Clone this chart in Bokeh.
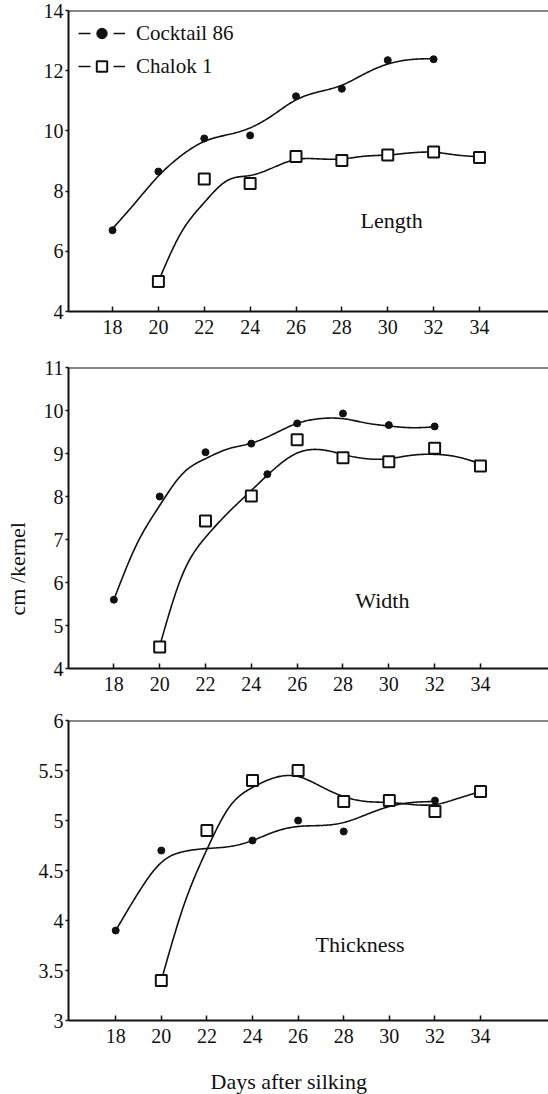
import numpy as np
from bokeh.plotting import figure
from bokeh.layouts import column
from bokeh.models import (Range1d, FixedTicker, Span, Label, Legend, LegendItem,
                          CustomJSTickFormatter, LinearAxis, Title)
from bokeh.embed import file_html
from bokeh.resources import INLINE

# ---------------- data ----------------
days_ck = [18, 20, 22, 24, 26, 28, 30, 32]
days_ch = [20, 22, 24, 26, 28, 30, 32, 34]
x_ticks = [18, 20, 22, 24, 26, 28, 30, 32, 34]

length_ck = [6.7, 8.65, 9.75, 9.85, 11.15, 11.4, 12.35, 12.38]
length_ch = [5.0, 8.4, 8.25, 9.15, 9.02, 9.2, 9.3, 9.12]

width_ck = [5.6, 8.0, 9.03, 9.23, 9.7, 9.93, 9.66, 9.63]
width_ch = [4.5, 7.43, 8.01, 9.32, 8.9, 8.81, 9.12, 8.71]
width_extra_day = [24.7]
width_extra_val = [8.52]

thick_ck_days = [18, 20, 24, 26, 28, 32]
thick_ck = [3.9, 4.7, 4.8, 5.0, 4.89, 5.2]
thick_ch = [3.4, 4.9, 5.4, 5.5, 5.19, 5.2, 5.09, 5.29]

# fitted (hand-drawn) curves, read at each day
fit_ck_days = list(range(18, 33))
fit_ch_days = list(range(20, 35))
length_ck_fit = [6.75, 7.62, 8.5, 9.18, 9.65, 9.87, 10.1, 10.53, 11.03, 11.3, 11.52, 11.9, 12.22, 12.37, 12.4]
length_ch_fit = [5.0, 6.63, 7.62, 8.35, 8.52, 8.78, 9.05, 9.07, 9.07, 9.16, 9.2, 9.27, 9.29, 9.2, 9.14]
width_ck_fit = [5.6, 6.89, 7.79, 8.53, 8.88, 9.11, 9.24, 9.46, 9.70, 9.81, 9.81, 9.71, 9.64, 9.60, 9.62]
width_ch_fit = [4.52, 6.19, 7.05, 7.63, 8.14, 8.64, 9.01, 9.09, 8.98, 8.88, 8.88, 8.96, 8.98, 8.92, 8.76]
thick_ck_fit = [3.9, 4.28, 4.58, 4.69, 4.72, 4.74, 4.80, 4.89, 4.94, 4.95, 4.98, 5.06, 5.14, 5.18, 5.19]
thick_ch_fit = [3.40, 4.16, 4.71, 5.14, 5.33, 5.43, 5.44, 5.34, 5.24, 5.19, 5.18, 5.16, 5.16, 5.22, 5.29]

length_ticks = [4, 6, 8, 10, 12, 14]
width_ticks = [4, 5, 6, 7, 8, 9, 10, 11]
thick_ticks = [3, 3.5, 4, 4.5, 5, 5.5, 6]

INK = "#111111"
FONT = "Liberation Serif"


def smooth(xs, ys, n=20):
    """natural cubic spline through the read curve values (for drawing)"""
    x = np.asarray(xs, float)
    y = np.asarray(ys, float)
    k = len(x)
    h = np.diff(x)
    A = np.zeros((k, k))
    b = np.zeros(k)
    A[0, 0] = A[-1, -1] = 1
    for i in range(1, k - 1):
        A[i, i - 1] = h[i - 1]
        A[i, i] = 2 * (h[i - 1] + h[i])
        A[i, i + 1] = h[i]
        b[i] = 3 * ((y[i + 1] - y[i]) / h[i] - (y[i] - y[i - 1]) / h[i - 1])
    c = np.linalg.solve(A, b)
    xx = np.linspace(x[0], x[-1], (k - 1) * n + 1)
    idx = np.clip(np.searchsorted(x, xx, side="right") - 1, 0, k - 2)
    dx = xx - x[idx]
    bc = (y[1:] - y[:-1]) / h - h * (2 * c[:-1] + c[1:]) / 3
    d = (c[1:] - c[:-1]) / (3 * h)
    yy = y[idx] + bc[idx] * dx + c[idx] * dx ** 2 + d[idx] * dx ** 3
    return xx, yy


def make_fig(height, top, bottom, xr, yr, yticks):
    p = figure(width=548, height=height, x_range=Range1d(*xr), y_range=Range1d(*yr),
               output_backend="svg", toolbar_location=None,
               min_border_top=top, min_border_bottom=bottom,
               min_border_left=68, min_border_right=0)
    p.outline_line_color = None
    p.xgrid.visible = False
    p.ygrid.visible = False
    p.background_fill_color = "white"
    p.border_fill_color = "white"
    xa = p.xaxis[0]
    xa.ticker = FixedTicker(ticks=x_ticks)
    xa.major_tick_in = 5
    xa.major_tick_out = 0
    xa.minor_tick_line_color = None
    xa.axis_line_width = 2
    xa.axis_line_color = INK
    xa.major_tick_line_color = INK
    xa.major_tick_line_width = 1.5
    xa.major_label_standoff = 8
    xa.major_label_text_font = FONT
    xa.major_label_text_font_style = "normal"
    xa.major_label_text_font_size = "20px"
    xa.major_label_text_color = INK
    ya = p.yaxis[0]
    ya.ticker = FixedTicker(ticks=yticks)
    ya.formatter = CustomJSTickFormatter(code="return tick.toString();")
    ya.major_tick_in = 0
    ya.major_tick_out = 3
    ya.minor_tick_line_color = None
    ya.axis_line_width = 2
    ya.axis_line_color = INK
    ya.major_tick_line_color = INK
    ya.major_tick_line_width = 1.5
    ya.major_label_standoff = 2
    ya.major_label_text_font = FONT
    ya.major_label_text_font_style = "normal"
    ya.major_label_text_font_size = "20px"
    ya.major_label_text_color = INK
    p.add_layout(Span(location=yr[1], dimension="width", line_color=INK, line_width=2))
    return p


def spacer_axis(gap):
    """an empty axis that only reserves `gap` pixels of border"""
    return LinearAxis(ticker=FixedTicker(ticks=[]), axis_line_color=None,
                      major_tick_line_color=None, minor_tick_line_color=None,
                      major_tick_in=0, major_tick_out=0, minor_tick_in=0, minor_tick_out=0,
                      major_label_text_font_size="0px", major_label_standoff=0,
                      axis_label=" ", axis_label_standoff=gap,
                      axis_label_text_font_size="1px")


def side_title(text, offset):
    return Title(text=text, align="left", offset=offset, standoff=0,
                 text_font=FONT, text_font_size="22px", text_font_style="normal",
                 text_color=INK)


def draw(p, dck, vck, fck, dch, vch, fch):
    xs, ys = smooth(fit_ck_days, fck)
    p.line(xs, ys, line_color=INK, line_width=1.6)
    xs, ys = smooth(fit_ch_days, fch)
    p.line(xs, ys, line_color=INK, line_width=1.6)
    r_ck = p.scatter(dck, vck, marker="circle", size=7, fill_color=INK, line_color=INK)
    r_ch = p.scatter(dch, vch, marker="square", size=11, fill_color="white",
                     line_color=INK, line_width=2)
    return r_ck, r_ch


def text(p, x, y, s):
    p.add_layout(Label(x=x, y=y, text=s, text_font=FONT, text_font_size="22px",
                       text_color=INK, text_align="left", text_baseline="middle"))


# ---------------- panel 1: length ----------------
p1 = make_fig(355, 10, 44, (16.08, 37.01), (4, 14), length_ticks)
r_ck, r_ch = draw(p1, days_ck, length_ck, length_ck_fit, days_ch, length_ch, length_ch_fit)
dash1 = p1.line([np.nan], [np.nan], line_color=INK, line_width=1.5, line_dash="12 23")
dash2 = p1.line([np.nan], [np.nan], line_color=INK, line_width=1.5, line_dash="12 23")
legend = Legend(items=[LegendItem(label="Cocktail 86", renderers=[dash1, r_ck]),
                       LegendItem(label="Chalok 1", renderers=[dash2, r_ch])],
                location="top_left", border_line_color=None, background_fill_alpha=0,
                label_text_font=FONT, label_text_font_size="21px",
                label_text_font_style="normal", label_text_color=INK,
                glyph_width=47, glyph_height=26, label_height=26, spacing=7,
                margin=10, padding=6, label_standoff=11)
p1.add_layout(legend)
text(p1, 28.81, 7.02, "Length")

# ---------------- panel 2: width ----------------
p2 = make_fig(355, 12, 42, (16.02, 36.97), (4, 11), width_ticks)
draw(p2, days_ck, width_ck, width_ck_fit, days_ch, width_ch, width_ch_fit)
p2.scatter(width_extra_day, width_extra_val, marker="circle", size=7, fill_color=INK, line_color=INK)
text(p2, 28.54, 5.58, "Width")
p2.add_layout(spacer_axis(7), "left")
p2.add_layout(side_title("cm /kernel", 53), "left")

# ---------------- panel 3: thickness ----------------
p3 = make_fig(384, 10, 74, (15.93, 36.98), (3, 6), thick_ticks)
draw(p3, thick_ck_days, thick_ck, thick_ck_fit, days_ch, thick_ch, thick_ch_fit)
text(p3, 26.76, 3.765, "Thickness")
p3.add_layout(spacer_axis(17), "below")
p3.add_layout(side_title("Days after silking", 142), "below")

layout = column(p1, p2, p3, spacing=0)
open("out.html", "w").write(file_html(layout, INLINE))
